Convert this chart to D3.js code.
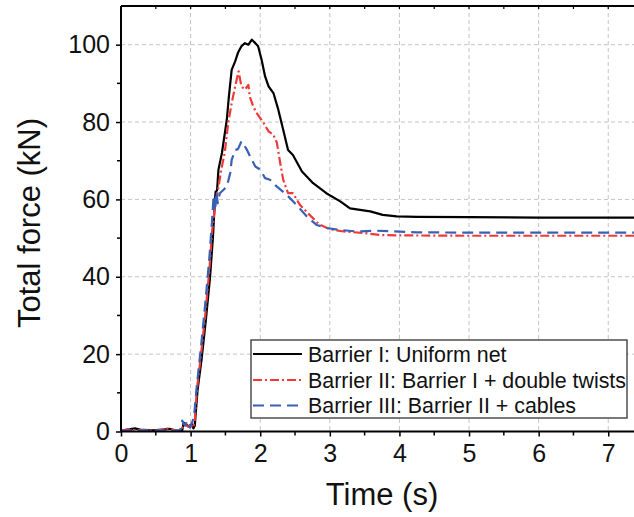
<!DOCTYPE html>
<html><head><meta charset="utf-8">
<script src="https://cdn.jsdelivr.net/npm/d3@7"></script>
<style>html,body{margin:0;padding:0;background:#fff;}svg{display:block;font-family:"Liberation Sans",Arial,sans-serif;}</style>
</head><body><svg id="c" width="634" height="517"></svg>
<script>
// Time (s), Total force (kN)
const barrier1 = [[0,0.2],[0.1,0.5],[0.2,0.8],[0.3,0.4],[0.45,0.3],[0.6,0.5],[0.7,0.7],[0.8,0.2],[0.88,0.3],[0.9,2.3],[0.97,1.3],[1.02,2.0],[1.04,0.8],[1.06,1.5],[1.1,10.7],[1.16,19],[1.22,29],[1.28,40],[1.32,50],[1.35,60],[1.36,62],[1.38,62.3],[1.40,67.7],[1.45,72],[1.52,80.6],[1.55,86.6],[1.59,93.5],[1.64,95.7],[1.68,97.9],[1.73,99.6],[1.78,100.4],[1.83,100],[1.88,101.3],[1.93,100.4],[1.97,99.6],[2.02,96.1],[2.07,91.8],[2.12,89.2],[2.19,87.5],[2.26,83.2],[2.33,78],[2.40,72.8],[2.47,71.5],[2.60,67.2],[2.76,64.2],[2.95,61.6],[3.15,59.5],[3.29,57.7],[3.58,56.9],[3.76,56],[3.96,55.6],[4.25,55.5],[5.0,55.4],[6.0,55.3],[7.0,55.3],[7.37,55.3]];
const barrier2 = [[0,0.1],[0.1,0.6],[0.2,0.3],[0.35,0.4],[0.5,0.2],[0.65,0.8],[0.75,0.4],[0.85,0.2],[0.92,1.8],[0.97,1.2],[1.0,1.6],[1.04,1.0],[1.06,3],[1.09,10.7],[1.15,20],[1.21,30],[1.27,42],[1.31,52],[1.35,58],[1.39,62],[1.44,67.7],[1.49,72],[1.54,79.7],[1.59,84.9],[1.64,89.2],[1.69,93.1],[1.73,89.2],[1.78,88.4],[1.83,89.6],[1.85,86.6],[1.90,84],[1.95,82.3],[2.05,79.7],[2.12,77.6],[2.19,76.7],[2.24,74.6],[2.28,70.2],[2.33,65.1],[2.40,61.6],[2.47,61.6],[2.57,58.6],[2.71,56],[2.85,53.5],[3.0,52.3],[3.2,51.7],[3.5,51.3],[3.72,50.8],[4.0,50.7],[5.0,50.6],[6.0,50.6],[7.0,50.6],[7.37,50.6]];
const barrier3 = [[0,0.3],[0.1,0.2],[0.2,0.5],[0.3,0.2],[0.4,0.4],[0.55,0.2],[0.65,0.4],[0.75,0.2],[0.85,0.3],[0.88,2.8],[0.92,1.5],[0.95,2.6],[0.99,1.0],[1.02,2.2],[1.05,4],[1.09,12],[1.15,22],[1.21,33],[1.27,45],[1.31,55],[1.33,61],[1.35,57],[1.37,62],[1.39,59],[1.42,61.6],[1.52,63.3],[1.57,66.9],[1.59,70.2],[1.64,72.8],[1.68,73],[1.73,75],[1.77,74],[1.81,72.8],[1.88,70.2],[1.93,68.5],[2.0,67.7],[2.07,65.5],[2.14,65.1],[2.24,63.3],[2.38,61.2],[2.52,58.6],[2.67,55.6],[2.81,53.4],[2.96,52.6],[3.15,52.1],[3.39,51.7],[3.67,51.9],[4.25,51.5],[5.0,51.4],[6.0,51.4],[7.0,51.4],[7.37,51.4]];
const seriesNames = ["Barrier I: Uniform net","Barrier II: Barrier I + double twists","Barrier III: Barrier II + cables"];
const xTicks = [0,1,2,3,4,5,6,7];
const yTicks = [0,20,40,60,80,100];
const xLabel = "Time (s)";
const yLabel = "Total force (kN)";

const svg = d3.select("#c");
const L=121, R=634, T=6, B=431.5;
const x = d3.scaleLinear().domain([0,7.37]).range([L,R]);
const y = d3.scaleLinear().domain([0,110]).range([B,T]);

// grid
const grid = svg.append("g").attr("stroke","#c4c4c4").attr("stroke-width",1).attr("stroke-dasharray","4,3");
xTicks.filter(d=>d>0).forEach(d=>grid.append("line").attr("x1",x(d)).attr("x2",x(d)).attr("y1",T).attr("y2",B));
yTicks.filter(d=>d>0).forEach(d=>grid.append("line").attr("x1",L).attr("x2",R).attr("y1",y(d)).attr("y2",y(d)));

// lines
svg.append("clipPath").attr("id","clip").append("rect").attr("x",L).attr("y",T).attr("width",R-L).attr("height",B-T);
const line = d3.line().x(d=>x(d[0])).y(d=>y(d[1]));
const styles = [
  {data:barrier1,color:"#000000",dash:null},
  {data:barrier2,color:"#f03a3a",dash:"9,3,2,3"},
  {data:barrier3,color:"#3a60b6",dash:"11,6"}
];
const lg = svg.append("g").attr("clip-path","url(#clip)");
styles.forEach(s=>{
  lg.append("path").datum(s.data).attr("d",line).attr("fill","none").attr("stroke",s.color)
    .attr("stroke-width",2.2).attr("stroke-linejoin","round").attr("stroke-dasharray",s.dash);
});

// axes
const xMinor = d3.range(0.5,7.5,1);
const yMinor = d3.range(10,110,20);
const xAxis = d3.axisBottom(x).tickValues(xTicks).tickSize(5).tickPadding(8).tickFormat(d3.format("d"));
const gx = svg.append("g").attr("transform",`translate(0,${B})`).call(xAxis);
xMinor.forEach(d=>gx.append("line").attr("x1",x(d)).attr("x2",x(d)).attr("y1",0).attr("y2",4).attr("stroke","#000").attr("stroke-width",1.5));
const yAxis = d3.axisLeft(y).tickValues(yTicks).tickSize(5).tickPadding(6).tickFormat(d3.format("d"));
const gy = svg.append("g").attr("transform",`translate(${L},0)`).call(yAxis);
yMinor.forEach(d=>gy.append("line").attr("x1",0).attr("x2",-4).attr("y1",y(d)).attr("y2",y(d)).attr("stroke","#000").attr("stroke-width",1.5));
[gx,gy].forEach(g=>{
  g.select(".domain").attr("stroke","#000").attr("stroke-width",2);
  g.selectAll(".tick line").attr("stroke","#000").attr("stroke-width",1.5);
  g.selectAll(".tick text").attr("font-size",25).attr("fill","#111").attr("font-family","Liberation Sans, Arial, sans-serif");
});
gx.select(".domain").attr("d",`M${L},0H${R}`);
gy.select(".domain").attr("d",`M0,${B}V${T}`);
// top axis
const topAxis = svg.append("g");
topAxis.append("line").attr("x1",L).attr("x2",R).attr("y1",T).attr("y2",T).attr("stroke","#000").attr("stroke-width",2);
xTicks.concat(xMinor).forEach(d=>topAxis.append("line").attr("x1",x(d)).attr("x2",x(d)).attr("y1",T).attr("y2",T+3).attr("stroke","#000").attr("stroke-width",1.2));

// axis titles
svg.append("text").attr("x",382).attr("y",505).attr("text-anchor","middle").attr("font-size",31).attr("fill","#111").text(xLabel);
svg.append("text").attr("transform","translate(40,223) rotate(-90)").attr("text-anchor","middle").attr("font-size",31).attr("fill","#111").text(yLabel);

// legend
const leg = svg.append("g");
leg.append("rect").attr("x",251).attr("y",340).attr("width",376).attr("height",78).attr("fill","#fff").attr("stroke","#333").attr("stroke-width",1.3);
const rowsY = [354,380,405.5];
styles.forEach((s,i)=>{
  leg.append("line").attr("x1",253).attr("x2",302).attr("y1",rowsY[i]).attr("y2",rowsY[i]).attr("stroke",s.color).attr("stroke-width",2.2).attr("stroke-dasharray",s.dash);
  leg.append("text").attr("x",308).attr("y",rowsY[i]).attr("dy","0.36em").attr("font-size",21.4).attr("fill","#111").text(seriesNames[i]);
});
</script></body></html>
